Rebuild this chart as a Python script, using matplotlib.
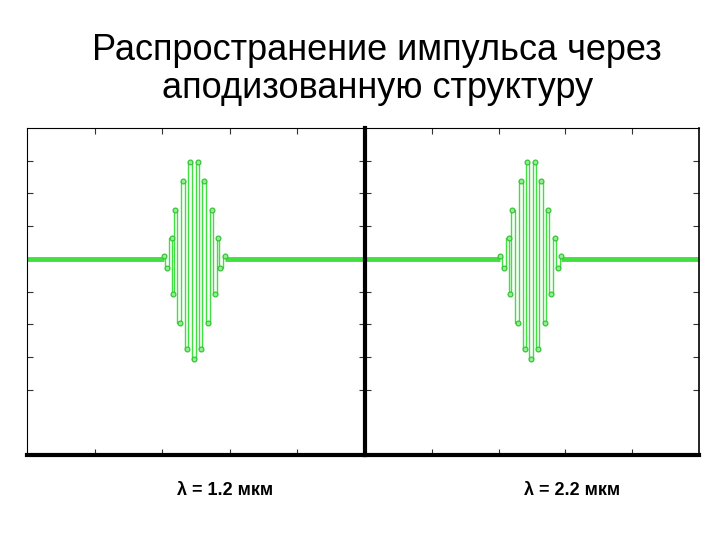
import matplotlib.pyplot as plt
import numpy as np

plt.rcParams['font.family'] = ['Liberation Sans', 'DejaVu Sans']

title = "Распространение импульса через\nаподизованную структуру"
labels = ["λ = 1.2 мкм", "λ = 2.2 мкм"]

# pulse extremes (x in panel units 0..5, y in tick units)
x1 = [2.02, 2.07, 2.14, 2.16, 2.19, 2.26, 2.31, 2.36, 2.41, 2.47,
      2.53, 2.57, 2.62, 2.67, 2.73, 2.78, 2.83, 2.86, 2.93]
x2 = [2.02, 2.08, 2.15, 2.17, 2.20, 2.29, 2.33, 2.39, 2.43, 2.49,
      2.54, 2.59, 2.63, 2.69, 2.74, 2.78, 2.84, 2.89, 2.94]
amp = [0.1, -0.28, 0.65, -1.08, 1.5, -1.97, 2.37, -2.74, 2.95, -3.05,
       2.95, -2.74, 2.37, -1.97, 1.5, -1.08, 0.65, -0.28, 0.1]

green = '#3fe03f'

fig = plt.figure(figsize=(7.2, 5.4), dpi=100)
fig.text(0.524, 0.871, title, ha='center', va='center', fontsize=26,
         linespacing=1.1)

boxes = [[0.0375, 0.157, 0.4695, 0.606], [0.507, 0.157, 0.464, 0.606]]
label_x = [0.3125, 0.795]

for i, xs in enumerate([x1, x2]):
    ax = fig.add_axes(boxes[i])
    ax.plot([0, xs[0]], [0, 0], color=green, lw=3.5, solid_capstyle='butt')
    ax.plot([xs[-1], 5], [0, 0], color=green, lw=3.5, solid_capstyle='butt')
    ax.plot(xs, amp, color=green, lw=1.0, drawstyle='steps-mid')
    ax.plot(xs, amp, ls='none', marker='o', ms=3.5,
            mfc='#8cf08c', mec='#2fbf2f', mew=0.8)
    ax.set_xlim(0, 5)
    ax.set_ylim(-6, 4)
    ax.set_xticks([1, 2, 3, 4])
    ax.set_yticks([-4, -3, -2, -1, 1, 2, 3])
    ax.tick_params(direction='in', top=True, right=True, length=4,
                   width=0.8, colors='#333333',
                   labelbottom=False, labelleft=False)
    for s in ax.spines.values():
        s.set_linewidth(0.8)
    ax.spines['bottom'].set_linewidth(3)
    if i == 1:
        ax.spines['left'].set_linewidth(3)
        ax.spines['right'].set_linewidth(1.2)
    fig.text(label_x[i], 0.092, labels[i], ha='center', va='center',
             fontsize=13, fontweight='bold')

fig.savefig('out.png', dpi=100)
